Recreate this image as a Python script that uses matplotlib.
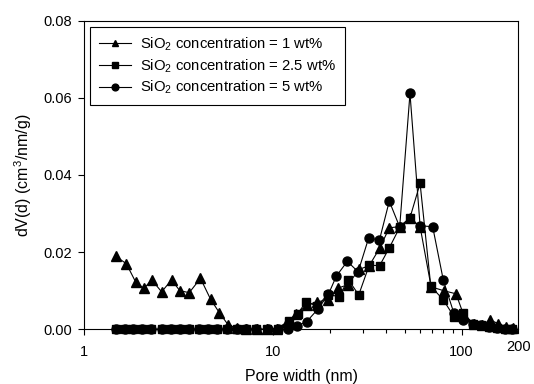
import numpy as np
import matplotlib
matplotlib.use("Agg")
import matplotlib.pyplot as plt
from matplotlib.ticker import LogLocator, NullFormatter, FixedLocator, FixedFormatter
import matplotlib.transforms as mtransforms

plt.rcParams['font.family'] = ['Liberation Sans', 'DejaVu Sans']
plt.rcParams['mathtext.fontset'] = 'custom'
plt.rcParams['mathtext.rm'] = 'Liberation Sans'
plt.rcParams['mathtext.it'] = 'Liberation Sans'

# SiO2 = 1 wt% (triangles)
x1 = [1.47, 1.67, 1.87, 2.07, 2.28, 2.57, 2.90, 3.21, 3.60, 4.13, 4.67, 5.20, 5.80, 6.45,
      7.2, 8.2, 9.3, 10.5, 11.9, 13.3, 15.1, 17.2, 19.6, 22.0, 25.0, 28.6, 32.4, 36.8,
      41.4, 47.0, 53.3, 60.3, 69.0, 80.5, 93.5, 103, 116, 128, 141, 157, 172, 187]
y1 = [0.0189, 0.0170, 0.0123, 0.0106, 0.0128, 0.0097, 0.0128, 0.0100, 0.0095, 0.0132,
      0.0078, 0.0043, 0.0011, 0.0003, 0.0, 0.0, 0.0, 0.0002, 0.0018, 0.0040, 0.0062,
      0.0072, 0.0075, 0.0106, 0.0116, 0.0155, 0.0165, 0.0210, 0.0263, 0.0266, 0.0289,
      0.0266, 0.0110, 0.0100, 0.0092, 0.0035, 0.0015, 0.0010, 0.0024, 0.0015, 0.0006, 0.0003]

# SiO2 = 2.5 wt% (squares)
x2 = [1.48, 1.65, 1.82, 2.03, 2.27, 2.57, 2.87, 3.21, 3.61, 4.04, 4.52, 5.07, 5.74, 6.43,
      7.19, 8.18, 9.3, 10.6, 12.1, 13.5, 15.0, 17.2, 19.5, 22.4, 25.1, 28.5, 32.4, 36.8,
      41.4, 47.0, 53.3, 60.3, 68.7, 80.1, 91.2, 102, 115, 127, 140, 155, 170, 185]
y2 = [0.0, 0.0, 0.0, 0.0, 0.0, 0.0, 0.0, 0.0, 0.0, 0.0, 0.0, 0.0, 0.0, 0.0,
      0.0, 0.0, 0.0, 0.0002, 0.0021, 0.0040, 0.0071, 0.0060, 0.0090, 0.0085, 0.0129,
      0.0089, 0.0166, 0.0165, 0.0211, 0.0264, 0.0289, 0.0378, 0.0112, 0.0076, 0.0033,
      0.0043, 0.0015, 0.0012, 0.0006, 0.0004, 0.0002, 0.0001]

# SiO2 = 5 wt% (circles)
x3 = [1.48, 1.65, 1.82, 2.03, 2.27, 2.57, 2.87, 3.21, 3.61, 4.04, 4.52, 5.07, 5.74, 6.43,
      7.19, 8.18, 9.4, 10.6, 12.0, 13.4, 15.1, 17.3, 19.7, 21.7, 24.8, 28.3, 32.2, 36.7,
      41.4, 47.0, 53.3, 60.3, 70.3, 80.1, 91.2, 102, 115, 127, 140, 155, 170, 185]
y3 = [0.0, 0.0, 0.0, 0.0, 0.0, 0.0, 0.0, 0.0, 0.0, 0.0, 0.0, 0.0, 0.0, 0.0,
      0.0, 0.0, 0.0, 0.0, 0.0, 0.0009, 0.0020, 0.0052, 0.0091, 0.0138, 0.0176, 0.0149,
      0.0237, 0.0231, 0.0332, 0.0265, 0.0611, 0.0268, 0.0266, 0.0127, 0.0041, 0.0025,
      0.0014, 0.0010, 0.0006, 0.0004, 0.0002, 0.0001]

labels = [r'SiO$_\mathregular{2}$ concentration = 1 wt%',
          r'SiO$_\mathregular{2}$ concentration = 2.5 wt%',
          r'SiO$_\mathregular{2}$ concentration = 5 wt%']

fig = plt.figure(figsize=(5.34, 3.84), dpi=100)
ax = fig.add_axes([0.1579, 0.1424, 0.8127, 0.8042])

ax.plot(x1, y1, color='black', lw=0.8, marker='^', ms=6.5, label=labels[0], clip_on=False)
ax.plot(x2, y2, color='black', lw=0.8, marker='s', ms=5.8, label=labels[1], clip_on=False)
ax.plot(x3, y3, color='black', lw=0.8, marker='o', ms=6.5, label=labels[2], clip_on=False)

ax.set_xscale('log')
ax.set_xlim(1, 200)
ax.set_ylim(0, 0.08)
ax.xaxis.set_major_locator(FixedLocator([1, 10, 100]))
ax.xaxis.set_major_formatter(FixedFormatter(['1', '10', '100']))
ax.xaxis.set_minor_locator(LogLocator(base=10, subs=np.arange(2, 10)))
ax.xaxis.set_minor_formatter(NullFormatter())
ax.set_yticks([0, 0.02, 0.04, 0.06, 0.08])
ax.set_yticklabels(['0.00', '0.02', '0.04', '0.06', '0.08'])
ax.tick_params(axis='both', which='major', direction='out', length=4.5, width=0.8,
               labelsize=10.5, pad=4.5)
ax.tick_params(axis='x', which='major', pad=6.5)
ax.tick_params(axis='x', which='minor', direction='out', length=3, width=0.8)
for s in ax.spines.values():
    s.set_linewidth(0.8)

trans = mtransforms.blended_transform_factory(ax.transData, ax.transAxes)
ax.text(200, -0.033, '200', transform=trans, ha='center', va='top', fontsize=10.5)

ax.set_xlabel('Pore width (nm)', fontsize=11.5)
ax.set_ylabel(r'dV(d) (cm$^\mathregular{3}$/nm/g)', fontsize=11.5)
ax.xaxis.set_label_coords(0.5, -0.128)
ax.yaxis.set_label_coords(-0.115, 0.5)

leg = ax.legend(loc='upper left', bbox_to_anchor=(0.013, 0.98), borderaxespad=0,
                fontsize=10.7, frameon=True, fancybox=False, edgecolor='black',
                framealpha=1, handlelength=2.15, handletextpad=0.6, labelspacing=0.28,
                borderpad=0.6, markerscale=0.75)
leg.get_frame().set_linewidth(0.8)

fig.savefig('out.png', dpi=100)
